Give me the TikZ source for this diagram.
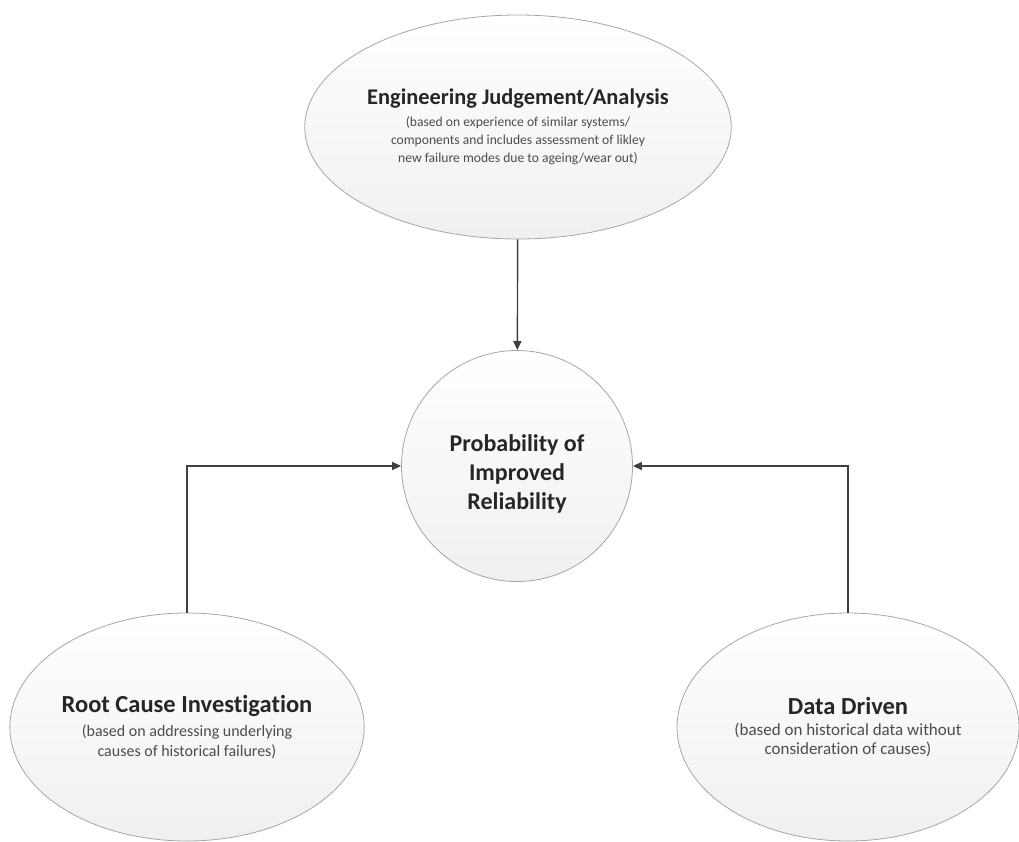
\documentclass[tikz,border=0pt]{standalone}
\usepackage{fontspec}
\setmainfont{Carlito}[Ligatures=NoCommon]
\usetikzlibrary{positioning}
\usetikzlibrary{shapes.geometric}
\usetikzlibrary{arrows.meta}

\newcommand{\headline}[2]{{\fontsize{#1}{#1}\selectfont\bfseries\color{black!85}#2}}

\begin{document}
\begin{tikzpicture}[x=1pt,y=-1pt,
	bubble/.style={ellipse,draw=gray!70,thick,top color=white,bottom color=gray!12,inner sep=0pt,align=center,text=black!70},
	link/.style={draw=black!75,line width=1.4pt,-{Triangle[length=9pt,width=8pt]}}]
	\useasboundingbox (0,0) rectangle (1019,841);
	% the three sources
	\node[bubble,minimum width=340pt,minimum height=224pt,font=\fontsize{13.6}{18}\selectfont] (engjudge) at (518,127)
		{\headline{22.4}{Engineering Judgement/Analysis}\\[4pt]
		 (based on experience of similar systems/\\
		 components and includes assessment of likley\\
		 new failure modes due to ageing/wear out)};
	\node[bubble,minimum width=350pt,minimum height=228pt,font=\fontsize{16}{20}\selectfont] (rootcause) at (187,727)
		{\headline{24.5}{Root Cause Investigation}\\[4pt]
		 (based on addressing underlying\\
		 causes of historical failures)};
	\node[bubble,minimum width=342pt,minimum height=228pt,font=\fontsize{17}{18.5}\selectfont] (datadriven) at (848,727)
		{\headline{24.5}{Data Driven}\\[3pt]
		 (based on historical data without\\
		 consideration of causes)};
	% the target
	\node[bubble,circle,minimum size=231pt,font=\fontsize{24}{29}\selectfont\bfseries,text=black!85] (probrel) at (517,466)
		{\mbox{}\\[4pt] Probability of\\ Improved\\ Reliability};
	\draw[link] (engjudge) -- (probrel);
	\draw[link] (rootcause.north) |- (probrel.west);
	\draw[link] (datadriven.north) |- (probrel.east);
\end{tikzpicture}
\end{document}
